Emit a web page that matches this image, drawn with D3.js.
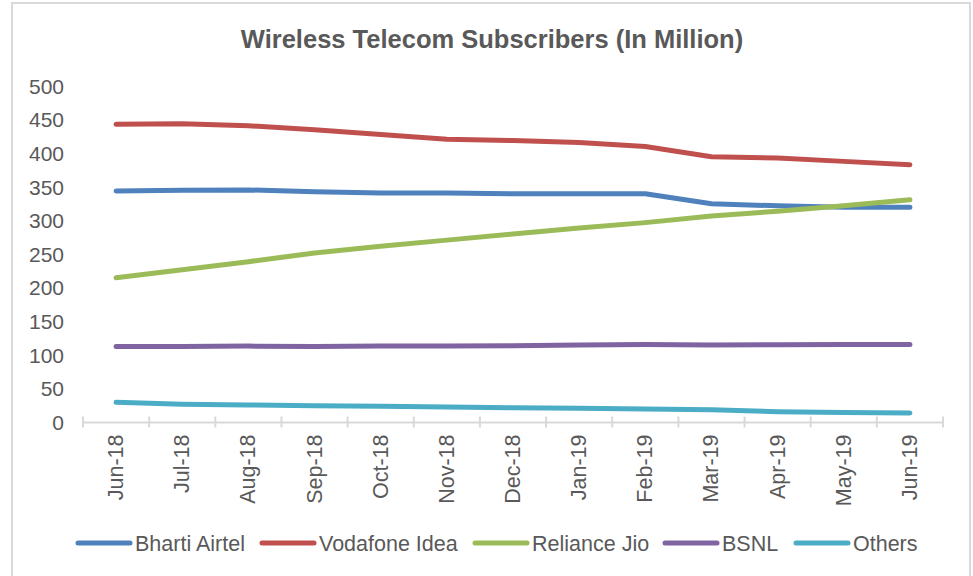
<!DOCTYPE html>
<html>
<head>
<meta charset="utf-8">
<script src="https://cdn.jsdelivr.net/npm/d3@7"></script>
<style>
  html, body { margin: 0; padding: 0; background: #fff; }
  svg { display: block; font-family: "Liberation Sans", Arial, sans-serif; }
</style>
</head>
<body>
<svg id="chart" width="973" height="576"></svg>
<script>
const months = ["Jun-18","Jul-18","Aug-18","Sep-18","Oct-18","Nov-18","Dec-18","Jan-19","Feb-19","Mar-19","Apr-19","May-19","Jun-19"];
const bhartiAirtel = [344, 345, 345.5, 343, 341, 341, 340, 340, 340, 325, 322, 320, 320];
const vodafoneIdea = [443, 444, 441, 435, 428, 421, 419, 416, 410, 395, 393, 388, 383];
const relianceJio = [215, 227, 239, 252, 262, 271, 280, 289, 297, 307, 314, 322, 331];
const bsnl = [113, 113, 113.5, 113, 113.5, 113.5, 114, 115, 116, 115, 115.5, 116, 116];
const others = [30, 27, 26, 25, 24, 23, 22, 21, 20, 19, 16, 15, 14];
const yTicks = [0, 50, 100, 150, 200, 250, 300, 350, 400, 450, 500];
const seriesNames = ["Bharti Airtel", "Vodafone Idea", "Reliance Jio", "BSNL", "Others"];
const seriesColors = ["#4F81BD", "#C0504D", "#9BBB59", "#8064A2", "#4BACC6"];
const seriesValues = [bhartiAirtel, vodafoneIdea, relianceJio, bsnl, others];
const title = "Wireless Telecom Subscribers (In Million)";

const svg = d3.select("#chart");
const textColor = "#595959";
const axisColor = "#D9D9D9";

// outer border
svg.append("rect").attr("x", 12).attr("y", 3).attr("width", 958).attr("height", 580)
  .attr("fill", "none").attr("stroke", axisColor).attr("stroke-width", 2);

// title
svg.append("text").attr("x", 492).attr("y", 48).attr("text-anchor", "middle")
  .attr("font-size", 25.5).attr("font-weight", "bold").attr("fill", textColor).text(title);

const plot = { left: 83, right: 943, top: 86, bottom: 422.5 };
const x = d3.scaleBand().domain(months).range([plot.left, plot.right]);
const y = d3.scaleLinear().domain([0, 500]).range([plot.bottom, plot.top]);

// y tick labels
svg.append("g").selectAll("text").data(yTicks).join("text")
  .attr("x", 64).attr("y", d => y(d)).attr("dy", "0.36em")
  .attr("text-anchor", "end").attr("font-size", 21).attr("fill", textColor)
  .text(d => d);

// x axis line
const xAxis = svg.append("g");
xAxis.append("line").attr("x1", plot.left).attr("x2", plot.right)
  .attr("y1", plot.bottom).attr("y2", plot.bottom)
  .attr("stroke", axisColor).attr("stroke-width", 2);
const boundaries = months.map(m => x(m)).concat([plot.right]);
xAxis.selectAll("line.tick").data(boundaries).join("line").attr("class", "tick")
  .attr("x1", d => d).attr("x2", d => d)
  .attr("y1", plot.bottom - 6).attr("y2", plot.bottom + 5)
  .attr("stroke", axisColor).attr("stroke-width", 2);

// x labels rotated
xAxis.selectAll("text").data(months).join("text")
  .attr("transform", d => `translate(${x(d) + x.bandwidth() / 2 + 7},${plot.bottom + 12}) rotate(-90)`)
  .attr("text-anchor", "end").attr("font-size", 21.5).attr("fill", textColor)
  .text(d => d);

// lines
const line = d3.line()
  .x((d, i) => x(months[i]) + x.bandwidth() / 2)
  .y(d => y(d));
svg.append("g").selectAll("path").data(seriesValues).join("path")
  .attr("d", d => line(d))
  .attr("fill", "none")
  .attr("stroke", (d, i) => seriesColors[i])
  .attr("stroke-width", 5)
  .attr("stroke-linecap", "round")
  .attr("stroke-linejoin", "round");

// legend
const legendX = [78, 262, 475, 665, 796];
const legend = svg.append("g");
seriesNames.forEach((name, i) => {
  const g = legend.append("g").attr("transform", `translate(${legendX[i]},543)`);
  g.append("line").attr("x1", 0).attr("x2", 52).attr("y1", 0).attr("y2", 0)
    .attr("stroke", seriesColors[i]).attr("stroke-width", 5).attr("stroke-linecap", "round");
  g.append("text").attr("x", 57).attr("y", 0).attr("dy", "0.36em")
    .attr("font-size", 21.5).attr("fill", textColor).text(name);
});
</script>
</body>
</html>
